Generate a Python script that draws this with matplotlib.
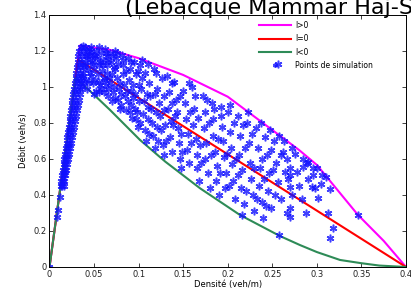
import matplotlib
matplotlib.use("Agg")
import matplotlib.pyplot as plt

# ---- curves ----
mag_x = [0, 0.034, 0.068, 0.10, 0.15, 0.20, 0.25, 0.28, 0.30, 0.346, 0.375, 0.40]
mag_y = [0, 1.23, 1.206, 1.16, 1.067, 0.946, 0.761, 0.65, 0.567, 0.29, 0.145, 0]

red_x = [0, 0.032, 0.40]
red_y = [0, 1.152, 0]

green_x = [0, 0.029, 0.045, 0.068, 0.1015, 0.13, 0.169, 0.2137, 0.2586, 0.281, 0.30, 0.326, 0.35, 0.37, 0.40]
green_y = [0, 1.05, 0.98, 0.872, 0.706, 0.585, 0.437, 0.289, 0.172, 0.122, 0.083, 0.039, 0.021, 0.008, 0]

# ---- simulation points: free-flow band ----
band_x = [0.0, 0.0081, 0.0099, 0.0118,
    0.0125, 0.0141, 0.0158, 0.0133, 0.0150, 0.0168, 0.0142, 0.0159, 0.0179,
    0.0150, 0.0169, 0.0189, 0.0158, 0.0178, 0.0200, 0.0167, 0.0188, 0.0211,
    0.0175, 0.0197, 0.0221, 0.0183, 0.0206, 0.0232, 0.0192, 0.0216, 0.0242,
    0.0200, 0.0225, 0.0253, 0.0208, 0.0234, 0.0263, 0.0217, 0.0244, 0.0274,
    0.0225, 0.0253, 0.0284, 0.0233, 0.0263, 0.0295, 0.0242, 0.0272, 0.0305,
    0.0250, 0.0281, 0.0316, 0.0258, 0.0291, 0.0326, 0.0267, 0.0300, 0.0337,
    0.0275, 0.0309, 0.0347, 0.0283, 0.0319, 0.0358, 0.0292, 0.0328, 0.0368,
    0.0300, 0.0338, 0.0379, 0.0308, 0.0347, 0.0389, 0.0317, 0.0356, 0.0400,
    0.0325, 0.0366, 0.0411, 0.0333, 0.0375, 0.0421,
    0.040, 0.044, 0.047, 0.042, 0.045, 0.040, 0.043, 0.038, 0.041, 0.036,
    0.039, 0.035, 0.038, 0.050, 0.049, 0.046, 0.044, 0.042]
band_y = [0.0, 0.278, 0.317, 0.39,
    0.45, 0.45, 0.45, 0.48, 0.48, 0.48, 0.51, 0.51, 0.51,
    0.54, 0.54, 0.54, 0.57, 0.57, 0.57, 0.60, 0.60, 0.60,
    0.63, 0.63, 0.63, 0.66, 0.66, 0.66, 0.69, 0.69, 0.69,
    0.72, 0.72, 0.72, 0.75, 0.75, 0.75, 0.78, 0.78, 0.78,
    0.81, 0.81, 0.81, 0.84, 0.84, 0.84, 0.87, 0.87, 0.87,
    0.90, 0.90, 0.90, 0.93, 0.93, 0.93, 0.96, 0.96, 0.96,
    0.99, 0.99, 0.99, 1.02, 1.02, 1.02, 1.05, 1.05, 1.05,
    1.08, 1.08, 1.08, 1.11, 1.11, 1.11, 1.14, 1.14, 1.14,
    1.17, 1.17, 1.17, 1.20, 1.20, 1.20,
    1.22, 1.21, 1.20, 1.17, 1.15, 1.12, 1.10, 1.06, 1.04, 1.00,
    1.02, 1.22, 1.23, 1.18, 1.13, 1.08, 1.03, 0.99]

# ---- simulation points: congested region ----
cong_x = [
    0.046, 0.048, 0.050, 0.047, 0.049, 0.052, 0.053, 0.055, 0.054, 0.056, 0.052,
    0.058, 0.060, 0.059, 0.061, 0.058, 0.062, 0.064, 0.065, 0.063, 0.066,
    0.068, 0.069, 0.070, 0.068, 0.071, 0.070,
    0.073, 0.075, 0.074, 0.076, 0.078, 0.077, 0.079, 0.081, 0.083, 0.082, 0.084,
    0.085, 0.086, 0.088, 0.090, 0.089, 0.091, 0.092, 0.093, 0.095, 0.097, 0.096,
    0.098, 0.099,
    0.102, 0.104, 0.103, 0.106, 0.105, 0.107, 0.108, 0.110, 0.112, 0.113, 0.114,
    0.115, 0.116, 0.118, 0.120, 0.121, 0.123, 0.124, 0.125, 0.127, 0.128,
    0.132, 0.134, 0.133, 0.136, 0.135, 0.138, 0.140, 0.142, 0.141, 0.144, 0.145,
    0.146, 0.148, 0.150, 0.152, 0.153, 0.155, 0.154, 0.157, 0.160, 0.162, 0.161,
    0.164, 0.165, 0.166, 0.168,
    0.172, 0.174, 0.173, 0.176, 0.175, 0.178, 0.180, 0.182, 0.184, 0.183, 0.186,
    0.188, 0.187, 0.190, 0.192, 0.194, 0.195, 0.196, 0.198, 0.197, 0.200, 0.202,
    0.204, 0.205, 0.206, 0.208,
    0.212, 0.214, 0.213, 0.216, 0.215, 0.216, 0.218, 0.222, 0.224, 0.225, 0.226,
    0.228, 0.230, 0.232, 0.234, 0.236, 0.235, 0.238, 0.240, 0.242, 0.244, 0.246,
    0.245, 0.248,
    0.252, 0.254, 0.256, 0.2567, 0.258, 0.260, 0.262, 0.264, 0.266, 0.2718,
    0.2848, 0.2886, 0.2904, 0.296, 0.296, 0.3054, 0.2942, 0.2979, 0.3147, 0.3016,
    0.283, 0.2878, 0.3128, 0.3465, 0.3178, 0.3147, 0.2698, 0.2698, 0.2698,
    0.2698, 0.2698, 0.2718,
    # second pass
    0.047, 0.051, 0.051, 0.050, 0.055, 0.057, 0.057, 0.056, 0.060, 0.061,
    0.063, 0.064, 0.062, 0.066, 0.067, 0.066, 0.071, 0.072, 0.072, 0.073,
    0.076, 0.077, 0.079, 0.080, 0.080, 0.083, 0.086, 0.087, 0.088, 0.090,
    0.092, 0.094, 0.094, 0.096, 0.097, 0.099, 0.100, 0.100, 0.101,
    0.104, 0.107, 0.109, 0.110, 0.111, 0.112, 0.117, 0.118, 0.119, 0.121,
    0.122, 0.126, 0.128, 0.129, 0.130, 0.131, 0.137, 0.138, 0.139, 0.143,
    0.147, 0.148, 0.149, 0.156, 0.158, 0.159, 0.163, 0.167, 0.169, 0.170,
    0.177, 0.179, 0.181, 0.185, 0.189, 0.191, 0.193, 0.199, 0.201, 0.203,
    0.207, 0.209, 0.211, 0.217, 0.219, 0.221, 0.223, 0.227, 0.229, 0.233,
    0.237, 0.239, 0.241, 0.243, 0.247, 0.249, 0.251, 0.253,
    0.258, 0.260, 0.263, 0.267, 0.268, 0.275, 0.278, 0.280, 0.284, 0.290,
    0.300, 0.305, 0.310]
cong_y = [
    1.18, 1.14, 1.10, 1.06, 1.02, 1.20, 1.16, 1.12, 1.07, 1.03, 0.98,
    1.19, 1.15, 1.09, 1.05, 0.99, 1.21, 1.17, 1.12, 1.01, 0.95,
    1.19, 1.14, 1.07, 1.02, 0.97, 0.92,
    1.20, 1.16, 1.10, 1.05, 0.99, 0.93, 0.88, 1.18, 1.12, 1.07, 1.01,
    0.95, 0.87, 1.16, 1.10, 1.04, 0.98, 0.90, 0.83, 1.14, 1.07, 0.96,
    0.86, 0.78,
    1.12, 1.05, 0.99, 0.92, 0.85, 0.76, 0.70, 1.13, 1.02, 0.95, 0.88,
    0.80, 0.73, 0.66, 1.08, 0.99, 0.91, 0.84, 0.76, 0.68, 0.62,
    1.06, 0.97, 0.88, 0.81, 0.72, 0.64, 1.03, 0.93, 0.84, 0.77, 0.69,
    0.60, 0.55, 0.98, 0.91, 0.82, 0.74, 0.65, 0.58, 1.00, 0.88, 0.79,
    0.71, 0.62, 0.55, 0.48,
    0.95, 0.86, 0.77, 0.69, 0.60, 0.52, 0.44, 0.91, 0.82, 0.73, 0.64,
    0.56, 0.48, 0.40, 0.89, 0.78, 0.70, 0.61, 0.52, 0.44, 0.86, 0.75,
    0.66, 0.57, 0.48, 0.38,
    0.84, 0.73, 0.62, 0.54, 0.44, 0.29, 0.35, 0.80, 0.69, 0.58, 0.49,
    0.40, 0.31, 0.77, 0.66, 0.55, 0.45, 0.36, 0.27, 0.72, 0.62, 0.52,
    0.42, 0.33,
    0.70, 0.58, 0.47, 1.128, 0.178, 0.38, 0.64, 0.53, 0.30, 0.659,
    0.557, 0.576, 0.585, 0.548, 0.511, 0.511, 0.446, 0.437, 0.433, 0.385,
    0.376, 0.302, 0.298, 0.289, 0.218, 0.161, 0.446, 0.328, 0.279,
    0.511, 0.548, 0.40,
    # second pass
    1.22, 1.17, 1.04, 0.96, 1.22, 1.14, 1.01, 0.97, 1.12, 0.97,
    1.19, 1.08, 1.04, 1.15, 1.05, 0.99, 1.17, 1.11, 1.00, 0.94,
    1.19, 1.13, 1.02, 0.96, 0.90, 1.15, 1.09, 0.98, 0.92, 0.86,
    1.14, 1.01, 0.94, 0.88, 0.82, 1.09, 1.01, 0.92, 0.80,
    1.15, 1.08, 0.96, 0.89, 0.82, 0.74, 1.10, 0.96, 0.86, 0.78,
    0.70, 1.05, 0.95, 0.87, 0.79, 0.70, 1.02, 0.91, 0.79, 0.86,
    0.95, 0.74, 0.64, 1.02, 0.86, 0.69, 0.95, 0.83, 0.68, 0.58,
    0.93, 0.80, 0.62, 0.88, 0.71, 0.52, 0.84, 0.63, 0.45, 0.90,
    0.80, 0.60, 0.51, 0.79, 0.66, 0.42, 0.86, 0.74, 0.55, 0.38,
    0.80, 0.60, 0.49, 0.34, 0.76, 0.65, 0.54, 0.40,
    0.73, 0.62, 0.70, 0.60, 0.49, 0.63, 0.53, 0.45, 0.60, 0.49,
    0.55, 0.46, 0.50]

sim_x = band_x + cong_x
sim_y = band_y + cong_y

x_ticks = [0, 0.05, 0.1, 0.15, 0.2, 0.25, 0.3, 0.35, 0.4]
x_labels = ["0", "0.05", "0.1", "0.15", "0.2", "0.25", "0.3", "0.35", "0.4"]
y_ticks = [0, 0.2, 0.4, 0.6, 0.8, 1.0, 1.2, 1.4]
y_labels = ["0", "0.2", "0.4", "0.6", "0.8", "1", "1.2", "1.4"]

plt.rcParams['font.family'] = ['DejaVu Sans']
fig = plt.figure(figsize=(4.11, 2.91), dpi=100)
ax = fig.add_axes([0.1204, 0.0825, 0.8674, 0.866])

ax.plot(mag_x, mag_y, color='#ff00ff', lw=1.5, label='I>0')
ax.plot(red_x, red_y, color='#ff0000', lw=1.5, label='I=0')
ax.plot(green_x, green_y, color='#2e8b57', lw=1.5, label='I<0')
ax.plot(sim_x, sim_y, linestyle='none', marker=(6, 2, 0), color='#1010ff',
        markersize=5.5, markeredgewidth=1.1, alpha=0.8, label='Points de simulation')

ax.set_xlim(0, 0.4)
ax.set_ylim(0, 1.4)
ax.set_xticks(x_ticks)
ax.set_xticklabels(x_labels)
ax.set_yticks(y_ticks)
ax.set_yticklabels(y_labels)
ax.tick_params(direction='in', top=True, right=True, labelsize=6, length=3,
               width=0.6, pad=2, colors='#222222')
for s in ax.spines.values():
    s.set_linewidth(0.7)
ax.set_xlabel('Densité (veh/m)', fontsize=6, labelpad=1)
ax.set_ylabel('Débit (veh/s)', fontsize=6, labelpad=4)

leg = ax.legend(loc='upper left', bbox_to_anchor=(0.57, 1.0), fontsize=5.5,
                frameon=False, handlelength=4.2, handletextpad=0.6,
                labelspacing=0.55, borderaxespad=0.4, numpoints=1,
                markerscale=0.6)

fig.text(125 / 411, 1 - 14 / 291, '(Lebacque Mammar Haj-Salem)', fontsize=16,
         ha='left', va='baseline', color='black')

fig.savefig('out.png', dpi=100)
